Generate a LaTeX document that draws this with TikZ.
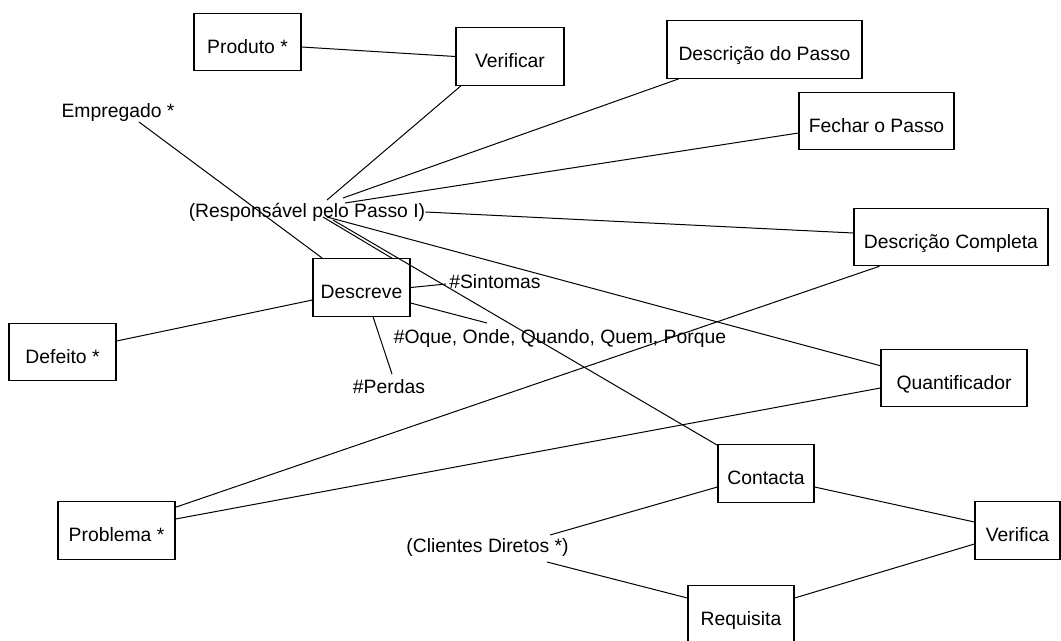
\documentclass[tikz,border=0pt]{standalone}
\usepackage{fontspec}
\setmainfont{Liberation Sans}
\tikzstyle{bx}=[draw, line width=0.9pt, inner sep=0, minimum height=43pt,
		text height=17.5pt, text depth=0.3pt, font=\fontsize{14.5}{17}\selectfont]
\tikzstyle{tx}=[inner sep=0, font=\fontsize{14.5}{17}\selectfont]
\tikzstyle{ln}=[line width=0.75pt]

\begin{document}
\begin{tikzpicture}[x=0.75pt, y=-0.75pt]
		\fill[white] (0,0) rectangle (1061,640);
		\useasboundingbox (0,0) rectangle (1061,640);
		% boxes
		\node[bx, minimum width=80.25pt] (produto) at (247.5,42) {Produto *};
		\node[bx, minimum width=81pt] (verificar) at (510,56.5) {Verificar};
		\node[bx, minimum width=146.25pt] (descpasso) at (764.5,49.5) {Descrição do Passo};
		\node[bx, minimum width=116.25pt] (fechar) at (876.5,121) {Fechar o Passo};
		\node[bx, minimum width=145.5pt] (desccompl) at (951,237) {Descrição Completa};
		\node[bx, minimum width=109.5pt] (quant) at (954,378) {Quantificador};
		\node[bx, minimum width=72pt] (contacta) at (766,473.5) {Contacta};
		\node[bx, minimum width=63.75pt] (verifica) at (1017.5,530.5) {Verifica};
		\node[bx, minimum width=79.5pt] (requisita) at (741,614.5) {Requisita};
		\node[bx, minimum width=72.75pt] (descreve) at (361.5,287.5) {Descreve};
		\node[bx, minimum width=80.25pt] (defeito) at (62.5,352) {Defeito *};
		\node[bx, minimum width=87.75pt] (problema) at (116.5,530.5) {Problema *};
		% free labels
		\node[tx] (empregado) at (118,112) {Empregado *};
		\node[tx] (resp) at (307,212) {(Responsável pelo Passo I)};
		\node[tx] (sintomas) at (495,282) {\#Sintomas};
		\node[tx] (oque) at (560,338) {\#Oque, Onde, Quando, Quem, Porque};
		\node[tx] (perdas) at (389,387) {\#Perdas};
		\node[tx] (clientes) at (487.5,547) {(Clientes Diretos *)};
		% connectors
		\draw[ln] ([shift={(0,5)}]produto.east) -- (verificar.west);
		\draw[ln] ([shift={(-49,0)}]verificar.south) -- ([shift={(20,-12)}]resp.center);
		\draw[ln] ([shift={(36,-14)}]resp.center) -- ([shift={(-85.5,0)}]descpasso.south);
		\draw[ln] ([shift={(38,-9)}]resp.center) -- ([shift={(0,12)}]fechar.west);
		\draw[ln] (resp.east) -- ([shift={(0,-4)}]desccompl.west);
		\draw[ln] ([shift={(20,5)}]resp.center) -- ([shift={(0,17)}]quant.north west);
		\draw[ln] ([shift={(26,8)}]resp.center) -- ([shift={(0,1)}]contacta.north west);
		\draw[ln] ([shift={(16,5)}]resp.center) -- ([shift={(30.5,0)}]descreve.north);
		\draw[ln] ([shift={(21,10)}]empregado.center) -- ([shift={(10,0)}]descreve.north west);
		\draw[ln] (descreve.east) -- ([shift={(-3,2)}]sintomas.west);
		\draw[ln] ([shift={(0,15.5)}]descreve.east) -- ([shift={(-73,-15)}]oque.center);
		\draw[ln] ([shift={(11.5,0)}]descreve.south) -- ([shift={(3,-13)}]perdas.center);
		\draw[ln] ([shift={(0,-11)}]defeito.east) -- ([shift={(0,12.5)}]descreve.west);
		\draw[ln] ([shift={(0,6)}]problema.north east) -- ([shift={(26,0)}]desccompl.south west);
		\draw[ln] ([shift={(0,-11.5)}]problema.east) -- ([shift={(0,10)}]quant.west);
		\draw[ln] ([shift={(0,13.5)}]contacta.west) -- ([shift={(62.5,-12)}]clientes.center);
		\draw[ln] ([shift={(0,13.5)}]contacta.east) -- ([shift={(0,-8.5)}]verifica.west);
		\draw[ln] ([shift={(59.5,15)}]clientes.center) -- ([shift={(0,-16.5)}]requisita.west);
		\draw[ln] ([shift={(0,-16.5)}]requisita.east) -- ([shift={(0,13.5)}]verifica.west);
\end{tikzpicture}
\end{document}
